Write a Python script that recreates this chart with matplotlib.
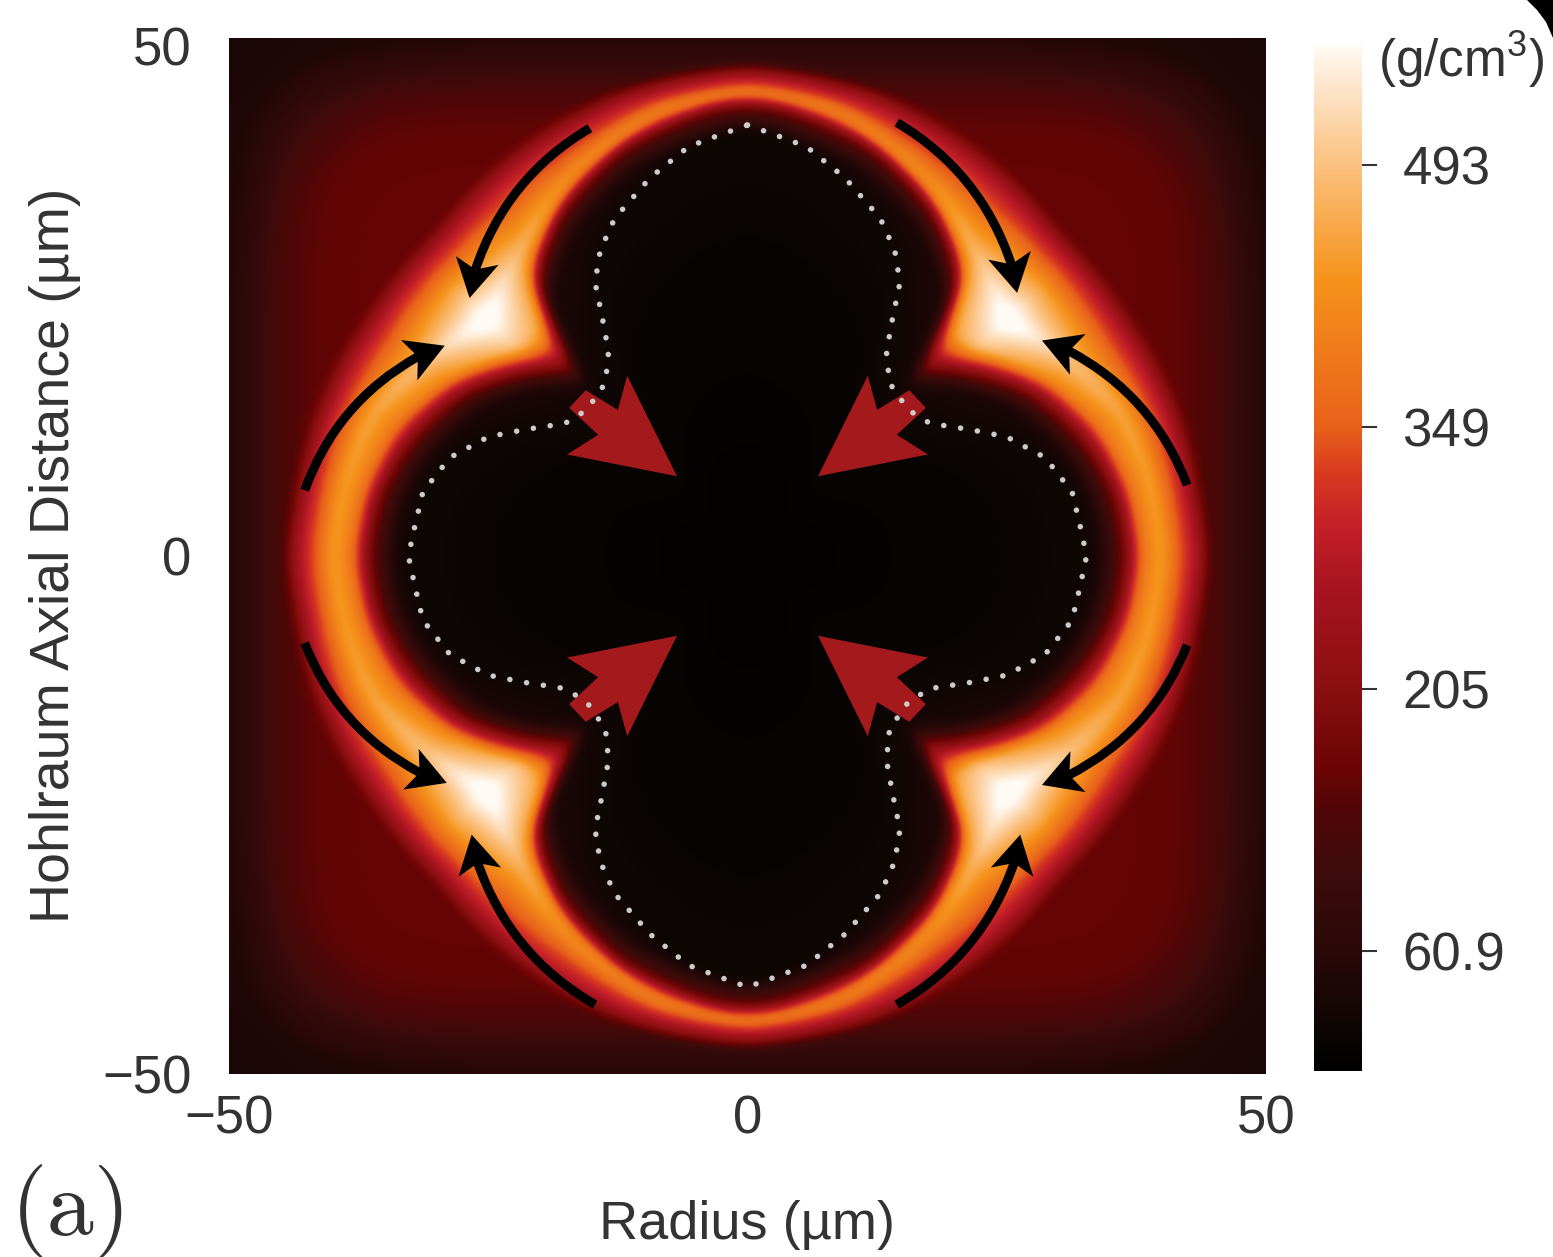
import matplotlib
matplotlib.use('Agg')
import matplotlib.pyplot as plt
import numpy as np
from matplotlib.colors import LinearSegmentedColormap
from matplotlib.patches import FancyArrowPatch, Polygon
from matplotlib.transforms import ScaledTranslation

plt.rcParams['font.family'] = ['Liberation Sans', 'DejaVu Sans']
plt.rcParams['mathtext.fontset'] = 'custom'
plt.rcParams['mathtext.rm'] = 'Liberation Sans'
plt.rcParams['mathtext.cal'] = 'Liberation Sans'

TEXT = '#333333'
W, H = 1553, 1257

# ring outlines, upper right quadrant, in um
inner_x = [36.6, 35.6, 33.0, 27.5, 16.3, 19.8, 20.2, 17.9, 12.1, 2.5, 0.0]
inner_y = [0.0, 5.7, 10.5, 15.7, 18.2, 24.0, 27.6, 33.4, 39.4, 43.5, 43.6]
ridge_x = [40.0, 38.8, 36.2, 31.4, 25.0, 21.7, 17.3, 8.9, 0.0]
ridge_y = [0.0, 7.3, 13.8, 18.6, 22.8, 29.8, 36.5, 43.0, 45.1]
ridge_density = [445, 450, 460, 495, 590, 480, 430, 410, 400]
outer_x = [43.5, 42.7, 40.7, 35.9, 29.5, 21.6, 12.0, 0.0]
outer_y = [0.0, 5.6, 13.7, 22.6, 30.5, 38.5, 44.0, 46.5]

# dotted contour, upper right quadrant, top to right
dots_x = [0.0, 2.8, 5.7, 9.4, 12.8, 14.2, 14.7, 14.0, 13.4, 13.7, 15.5, 17.6, 21.5, 25.0, 28.7, 31.3, 32.1, 32.7]
dots_y = [41.6, 40.6, 39.5, 36.5, 32.6, 29.5, 26.4, 23.0, 19.7, 16.7, 14.1, 12.8, 12.2, 11.5, 9.5, 6.2, 2.8, 0.0]

# background density against distance from the frame centre
bg_norm = [0, 38, 42, 45, 47, 50]
bg_density = [155, 155, 150, 130, 95, 55]

# black flow arrows
arrow_x0 = [14.4, 42.4, -15.2, -42.7, -42.7, -14.7, 14.4, 42.4]
arrow_y0 = [41.85, 6.85, 41.3, 6.35, -8.4, -43.3, -43.3, -8.6]
arrow_x1 = [26.0, 28.4, -26.8, -29.2, -29.0, -26.6, 26.3, 28.4]
arrow_y1 = [25.4, 20.8, 24.9, 20.3, -21.9, -26.9, -26.9, -22.1]
arrow_rad = [-0.22, 0.22, 0.22, -0.22, 0.22, -0.22, 0.22, -0.22]

# red block arrow, upper right quadrant
red_x = [15.6, 17.2, 14.4, 17.4, 6.8, 11.6, 12.5]
red_y = [16.0, 14.3, 11.7, 9.8, 7.7, 17.4, 14.1]
red_signs = [(1, 1), (-1, 1), (-1, -1), (1, -1)]

cbar_ticks = [60.9, 205, 349, 493]
cbar_labels = ['60.9', '205', '349', '493']
axis_ticks = [-50, 0, 50]
axis_labels = ['\u221250', '0', '50']

cmap_values = [-5, 17, 60.9, 99, 135, 160, 205, 261, 295, 324, 349, 430, 493, 530, 559]
cmap_colors = ['#000000', '#0c0604', '#2a0808', '#3a0b0b', '#4e0707', '#6a0404', '#8a0f10', '#a81420',
               '#c42028', '#d83a20', '#e8601a', '#f5921a', '#fbc07e', '#fde0c0', '#fffaf4']
vmin, vmax = cmap_values[0], cmap_values[-1]
stops = [(v - vmin) / (vmax - vmin) for v in cmap_values]
cmap = LinearSegmentedColormap.from_list('density', list(zip(stops, cmap_colors)), N=512)


def polar_curve(xs, ys, angles):
    # radius of an outline at each angle, lightly smoothed
    theta = np.degrees(np.arctan2(ys, xs))
    order = np.argsort(theta)
    r = np.interp(angles, theta[order], np.hypot(xs, ys)[order])
    k = 25
    padded = np.r_[r[k:0:-1], r, r[-2:-k - 2:-1]]
    return np.convolve(padded, np.ones(2 * k + 1) / (2 * k + 1), mode='valid')


def blur(a, k=5, passes=2):
    kernel = np.ones(k) / k
    for _ in range(passes):
        for ax_n in (0, 1):
            a = np.apply_along_axis(lambda v: np.convolve(np.pad(v, k // 2, mode='edge'), kernel, mode='valid'),
                                    ax_n, a)
    return a


def density_field(n=500):
    # field rebuilt from the outlines above, mirrored over the four quadrants
    axis = np.linspace(-50, 50, n)
    x, y = np.meshgrid(axis, axis)
    r = np.hypot(x, y)
    idx = np.round(np.degrees(np.arctan2(np.abs(y), np.abs(x))) * 10).astype(int)
    angles = np.arange(0, 901) / 10

    r_dot = polar_curve(dots_x, dots_y, angles)
    r_in = polar_curve(inner_x, inner_y, angles)
    r_pk = polar_curve(ridge_x, ridge_y, angles)
    r_out = polar_curve(outer_x, outer_y, angles)
    theta_pk = np.degrees(np.arctan2(ridge_y, ridge_x))
    peak = np.interp(angles, theta_pk, ridge_density)

    norm = (np.abs(x) ** 8 + np.abs(y) ** 8) ** (1 / 8)
    bg = np.interp(norm, bg_norm, bg_density) * np.interp(r, [55, 71], [1.0, 0.7])

    field = np.zeros_like(x)
    for i in range(len(angles)):
        m = idx == i
        if not m.any():
            continue
        a, b, c = r_in[i], r_pk[i], r_out[i]
        knots = [0, 0.7 * r_dot[i], r_dot[i], a - 2.4, a, a + 0.45 * (b - a), b, b + 0.5 * (c - b), c, c + 1.4, 90]
        knots = np.maximum.accumulate(knots) + np.arange(11) * 1e-3
        vals = [3, 8, 22, 40, 185, 0.84 * peak[i], peak[i], 0.78 * peak[i], 260, 0, 0]
        w = np.interp(r[m], knots, [0, 0, 0, 0, 0, 0, 0, 0, 0, 1, 1])
        field[m] = np.interp(r[m], knots, vals) + w * bg[m]
    return axis, blur(field)


axis, field = density_field()

fig = plt.figure(figsize=(W / 100, H / 100), dpi=100)
ax = fig.add_axes([229 / W, 1 - 1074 / H, (1266 - 229) / W, (1074 - 38) / H])
im = ax.imshow(field, origin='lower', extent=[-50, 50, -50, 50], cmap=cmap, vmin=vmin, vmax=vmax,
               interpolation='bicubic', aspect='auto')
for s in ax.spines.values():
    s.set_visible(False)
ax.set_xticks(axis_ticks)
ax.set_xticklabels(axis_labels)
ax.set_yticks(axis_ticks)
ax.set_yticklabels(axis_labels)
ax.tick_params(axis='x', length=0, pad=15, labelsize=38, labelcolor=TEXT)
ax.tick_params(axis='y', length=0, pad=27, labelsize=38, labelcolor=TEXT)
# top label sits a little below its tick in the original
top = ax.get_yticklabels()[2]
top.set_transform(top.get_transform() + ScaledTranslation(0, -8 / 100, fig.dpi_scale_trans))

# dotted contour, all four quadrants
qx, qy = np.array(dots_x), np.array(dots_y)
loop_x = np.r_[qx, qx[::-1], -qx, -qx[::-1]]
loop_y = np.r_[qy, -qy[::-1], -qy, qy[::-1]]
ax.plot(loop_x, loop_y, color='#cccccc', lw=4.0, linestyle=(0, (0.01, 3.05)), dash_capstyle='round', zorder=4)

for sx, sy in red_signs:
    ax.fill(sx * np.array(red_x), sy * np.array(red_y), color='#a41a1c', lw=0, zorder=3)

for x0, y0, x1, y1, rad in zip(arrow_x0, arrow_y0, arrow_x1, arrow_y1, arrow_rad):
    # end direction of the arc, used to stop the shaft inside a notched head
    cx = (x0 + x1) / 2 + rad * (y1 - y0)
    cy = (y0 + y1) / 2 - rad * (x1 - x0)
    d = np.array([x1 - cx, y1 - cy])
    d = d / np.hypot(*d)
    nrm = np.array([-d[1], d[0]])
    tip = np.array([x1, y1])
    neck = tip - 2.8 * d
    ax.add_patch(FancyArrowPatch((x0, y0), tuple(neck), connectionstyle=f'arc3,rad={rad * 0.85:.3f}',
                                 arrowstyle='-', lw=6.5, color='black', shrinkA=0, shrinkB=0,
                                 capstyle='butt', zorder=5))
    head = [tip, tip - 3.7 * d + 2.1 * nrm, neck, tip - 3.7 * d - 2.1 * nrm]
    ax.add_patch(Polygon(head, closed=True, color='black', lw=0, zorder=5))

cax = fig.add_axes([1314 / W, 1 - 1071 / H, 48 / W, (1071 - 45) / H])
cbar = fig.colorbar(im, cax=cax)
cbar.outline.set_visible(False)
cbar.set_ticks(cbar_ticks)
cbar.set_ticklabels(cbar_labels)
cax.tick_params(length=11, width=1.5, color=TEXT, pad=18, labelsize=38, labelcolor=TEXT)

fig.text(1378 / W, 1 - 60 / H, '(g/cm$^{\\mathrm{3}}$)', fontsize=37, color=TEXT, ha='left', va='center')
fig.text(747 / W, 1 - 1225 / H, 'Radius (\u00b5m)', fontsize=39, color=TEXT, ha='center', va='center')
fig.text(55 / W, 1 - 555 / H, 'Hohlraum Axial Distance (\u00b5m)', fontsize=40, color=TEXT,
         rotation=90, ha='center', va='center')
fig.text(71 / W, 1 - 1212 / H, '(a)', fontsize=68, color=TEXT, ha='center', va='center',
         family=['cmr10', 'DejaVu Serif'])

# black scan corner at the top right
corner_x = [1527, 1537, 1546, 1553, 1553]
corner_y = [0, 10, 22, 38, 0]
fig.add_artist(Polygon([(a / W, 1 - b / H) for a, b in zip(corner_x, corner_y)], closed=True,
                       transform=fig.transFigure, color='black', lw=0))

fig.savefig('out.png', dpi=100)
